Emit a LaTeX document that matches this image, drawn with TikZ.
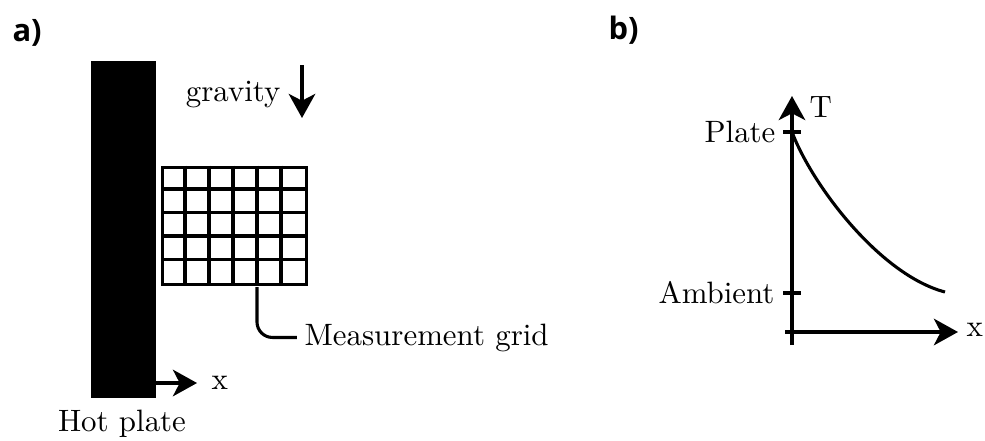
\documentclass[tikz,border=0pt]{standalone}
\usepackage{fontspec}
\newfontfamily\panelfont{Open Sans}
\usetikzlibrary{arrows.meta}
\begin{document}
\begin{tikzpicture}[x=0.3236pt,y=-0.3236pt,line width=1pt,
  arr/.style={-{Stealth[length=7.8pt,width=8.6pt,inset=2.2pt]}},
  lbl/.style={inner sep=0pt,font=\fontsize{10}{12}\selectfont},
  panel/.style={inner sep=0pt,font=\panelfont\bfseries\fontsize{10}{12}\selectfont}]
\useasboundingbox (0,0) rectangle (985,440);
% panel labels
\node[panel,anchor=base west] (pa) at (11,41) {a)};
\node[panel,anchor=base west] (pb) at (607,39) {b)};
% hot plate
\node[fill=black,draw=none,inner sep=0pt,minimum width=21.04pt,minimum height=109.05pt,anchor=north west] (plate) at (89,59) {};
\node[lbl,anchor=base] (hp) at (122,431) {Hot plate};
\coordinate (xs) at (154,383);
\node[lbl,anchor=west] (xl) at (210,383) {x};
\draw[arr,shorten >=4.2pt] (xs) -- (xl.west);
% gravity
\node[lbl,anchor=base east] (grav) at (282,101.7) {gravity};
\coordinate (gt) at (302,65);
\coordinate (gb) at (302,118);
\draw[arr] (gt) -- (gb);
% grid
\node[draw,inner sep=0pt,minimum width=46.6pt,minimum height=38.0pt,anchor=north west] (grid) at (161,165.5) {};
\foreach \i in {1,...,5} \draw (161+24*\i,165.5) -- (161+24*\i,283);
\foreach \j in {1,...,4} \draw (161,165.5+23.5*\j) -- (305,165.5+23.5*\j);
\node[lbl,anchor=base west] (mg) at (303,345) {Measurement grid};
\coordinate (ls) at (257,287);
\draw[rounded corners=5pt,shorten >=2pt] (ls) |- (mg.west);
% plot
\coordinate (yb) at (792,345);
\coordinate (yt) at (792,96);
\coordinate (xb) at (785,332);
\coordinate (xt) at (958,332);
\draw[arr] (yb) -- (yt);
\draw[arr] (xb) -- (xt);
\node[lbl,anchor=west] (tl) at (808,107) {T};
\node[lbl,anchor=west] (xl2) at (965,330) {x};
\node[lbl,anchor=east] (pl) at (777,132) {Plate};
\node[lbl,anchor=east] (am) at (776,293) {Ambient};
\draw (pl.east -| 783,0) -- (801,132);
\draw (am.east -| 783,0) -- (801,293);
\coordinate (c0) at (792,132);
\coordinate (c1) at (945,292);
\draw (c0) .. controls (812,185) and (880,275) .. (c1);
\end{tikzpicture}
\end{document}
